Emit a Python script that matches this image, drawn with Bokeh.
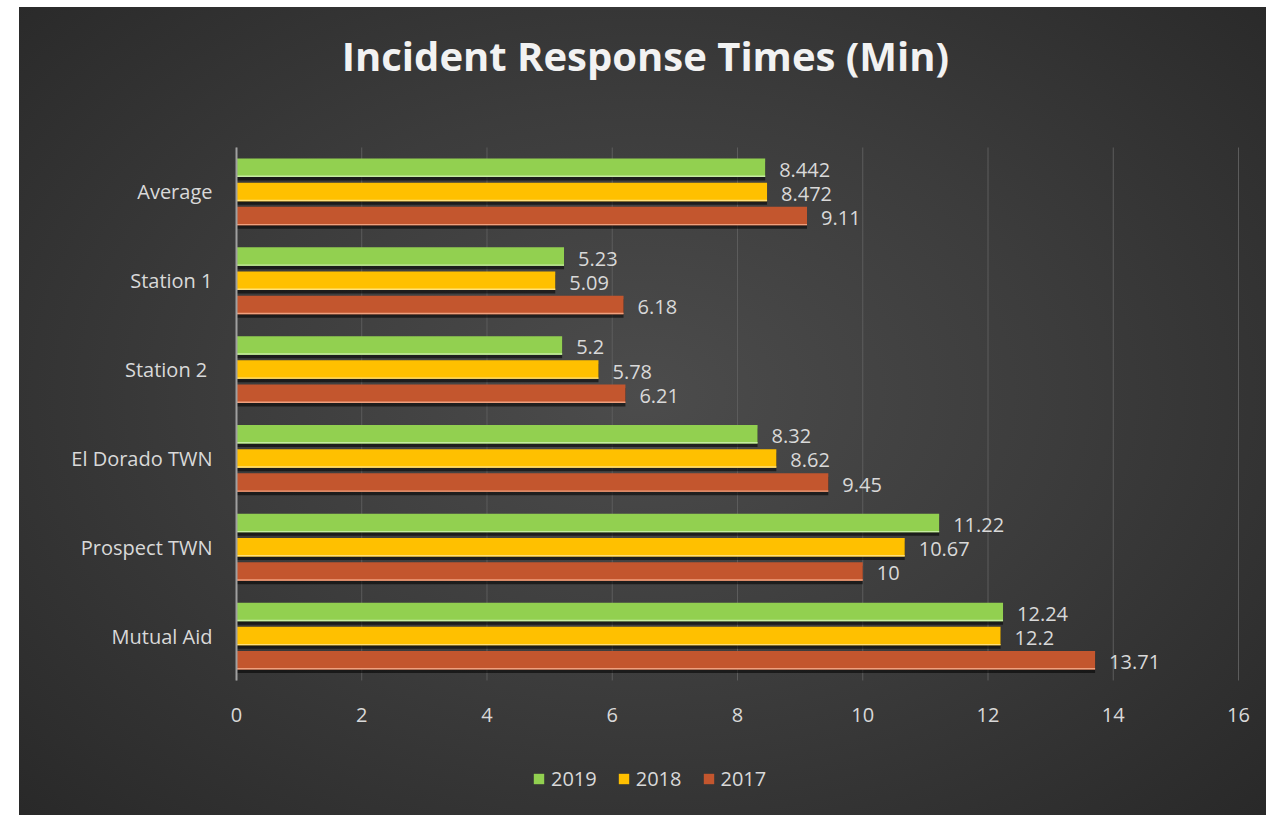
from bokeh.plotting import figure
from bokeh.models import (Range1d, Legend, LegendItem, ColumnDataSource, Spacer,
                          FixedTicker, Label)
from bokeh.transform import dodge
from bokeh.layouts import row, column
from bokeh.embed import file_html
from bokeh.resources import INLINE
from bokeh.core.properties import value

# ---- data ----
categories = ["Average", "Station 1", "Station 2 ", "El Dorado TWN", "Prospect TWN", "Mutual Aid"]
v2019 = [8.442, 5.23, 5.2, 8.32, 11.22, 12.24]
v2018 = [8.472, 5.09, 5.78, 8.62, 10.67, 12.2]
v2017 = [9.11, 6.18, 6.21, 9.45, 10, 13.71]
years = ["2019", "2018", "2017"]
x_ticks = [0, 2, 4, 6, 8, 10, 12, 14, 16]
title_text = "Incident Response Times (Min)"

FONT = "Open Sans"
TXT = "#d9d9d9"

n = len(categories)
ypos = list(range(n - 1, -1, -1))          # first category at the top
lo, hi = -0.5, n - 0.5                      # extent of the category band

p = figure(
    frame_width=1247, frame_height=808,
    x_range=Range1d(-3.465, 16.447),
    y_range=Range1d(lo - 1.52, hi + 1.576),
    output_backend="svg", toolbar_location=None, title=None,
    min_border_left=0, min_border_right=0, min_border_top=0, min_border_bottom=0,
)
p.styles = {"background": "radial-gradient(ellipse 75% 80% at 50% 48%, #4c4c4c 0%, #3c3c3c 45%, #262626 100%)"}
p.background_fill_color = None
p.border_fill_color = None
p.outline_line_color = None

# vertical grid lines limited to the category band
p.xgrid.grid_line_color = None
p.ygrid.grid_line_color = None
p.segment(x0=x_ticks, x1=x_ticks, y0=[lo] * len(x_ticks), y1=[hi] * len(x_ticks),
          line_color="#5c5c5c", line_width=1)

series = [(years[0], v2019, "#92d050", "#c6eca2", 0.272),
          (years[1], v2018, "#ffc000", "#ffe07a", 0.0),
          (years[2], v2017, "#c3562e", "#f0a07e", -0.272)]

H = 0.208
items = []
for name, vals, col, edge, off in series:
    src = ColumnDataSource(dict(y=ypos, v=vals, lab=[f"{x:g}" for x in vals]))
    # shadow
    p.hbar(y=dodge("y", off - 0.04), left=0, right="v", height=H,
           source=src, fill_color="black", fill_alpha=0.55, line_color=None)
    r = p.hbar(y=dodge("y", off), left=0, right="v", height=H,
               source=src, fill_color=col, line_color=None)
    # light bottom edge
    p.hbar(y=dodge("y", off - H / 2 + 0.008), left=0, right="v", height=0.016,
           source=src, fill_color=edge, line_color=None)
    p.text(x="v", y=dodge("y", off), text="lab", source=src,
           x_offset=14, y_offset=2, text_align="left", text_baseline="middle",
           text_color=TXT, text_font=value(FONT), text_font_size="20px")
    items.append(LegendItem(label=name, renderers=[r]))

# x axis drawn at the bottom of the category band
p.xaxis.fixed_location = lo
p.xaxis.ticker = x_ticks
p.xaxis.axis_line_color = None
p.xaxis.major_tick_line_color = None
p.xaxis.minor_tick_line_color = None
p.xaxis.major_label_text_color = TXT
p.xaxis.major_label_text_font = FONT
p.xaxis.major_label_text_font_size = "20px"
p.xaxis.major_label_standoff = 22

# y axis drawn at x = 0
p.yaxis.fixed_location = 0
p.yaxis.ticker = FixedTicker(ticks=ypos)
p.yaxis.major_label_overrides = {y: c for y, c in zip(ypos, categories)}
p.yaxis.bounds = (lo, hi)
p.yaxis.axis_line_color = "#a0a0a0"
p.yaxis.axis_line_width = 2
p.yaxis.major_tick_line_color = None
p.yaxis.minor_tick_line_color = None
p.yaxis.major_label_text_color = TXT
p.yaxis.major_label_text_font = FONT
p.yaxis.major_label_text_font_size = "20px"
p.yaxis.major_label_standoff = 18

# title
p.add_layout(Label(x=6.53, y=hi + 1.576 - 0.54, text=title_text, text_align="center",
                   text_baseline="middle", text_color="#f2f2f2", text_font=FONT,
                   text_font_size="40px", text_font_style="bold"))

legend = Legend(items=items, orientation="horizontal", location=(513, 23),
                label_text_color=TXT, label_text_font=FONT, label_text_font_size="20px",
                glyph_width=13, glyph_height=13, spacing=20, label_standoff=6,
                border_line_color=None, background_fill_alpha=0, margin=0, padding=0)
p.add_layout(legend, "center")

layout = column(Spacer(width=1266, height=7), row(Spacer(width=19, height=808), p))
open("out.html", "w").write(file_html(layout, INLINE))
